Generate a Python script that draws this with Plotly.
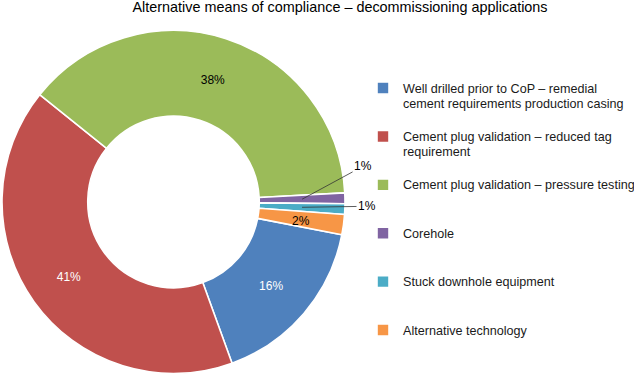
import math
import plotly.graph_objects as go

# ---- data ----
categories = [
    "Well drilled prior to CoP – remedial<br>cement requirements production casing",
    "Cement plug validation – reduced tag<br>requirement",
    "Cement plug validation – pressure testing",
    "Corehole",
    "Stuck downhole equipment",
    "Alternative technology",
]
shares = [16.4, 41.3, 38.4, 1.0, 1.0, 1.9]
colors = ["#4F81BD", "#C0504D", "#9BBB59", "#8064A2", "#4BACC6", "#F79646"]
label_colors = ["white", "white", "black", "black", "black", "black"]
inside_label = [True, True, True, False, False, False]

title_text = "Alternative means of compliance – decommissioning applications"

W, H = 634, 376
ROT = 101
HOLE = 0.5
dom_x = [2 / W, 345 / W]
dom_y = [1 - 373.5 / H, 1 - 30.5 / H]

total = sum(shares)
pct = [f"{round(v)}%" for v in shares]

# legend text padded so each entry occupies three lines
def pad(s, n=3):
    lines = s.count("<br>") + 1
    body = "<br>".join(f'<span style="font-size:12.6px">{ln}</span>' for ln in s.split("<br>"))
    return body + "<br> " * (n - lines)

legend_labels = [pad(c) for c in categories]

fig = go.Figure()
fig.add_trace(go.Pie(
    labels=legend_labels,
    values=shares,
    sort=False,
    direction="clockwise",
    rotation=ROT,
    hole=HOLE,
    marker=dict(colors=colors, line=dict(color="white", width=1.6)),
    text=[p if ins else "" for p, ins in zip(pct, inside_label)],
    textinfo="text",
    textposition="inside",
    insidetextorientation="horizontal",
    textfont=dict(color=label_colors, size=12, family="Liberation Sans, Arial"),
    domain=dict(x=dom_x, y=dom_y),
    hoverinfo="percent",
))

# geometry of pie (in pixels) to position the labels of the small slices
cx = W * (dom_x[0] + dom_x[1]) / 2
cy = H * (1 - (dom_y[0] + dom_y[1]) / 2)
R = min(W * (dom_x[1] - dom_x[0]), H * (dom_y[1] - dom_y[0])) / 2
rmid = R * (1 + HOLE) / 2

cum = 0
annos = []
offsets = {3: (61, -33), 4: (65, -1)}
for i, v in enumerate(shares):
    theta = math.radians(ROT + 360 * (cum + v / 2) / total)
    cum += v
    if inside_label[i]:
        continue
    px = cx + rmid * math.sin(theta)
    py = cy - rmid * math.cos(theta)
    xp, yp = px / W, 1 - py / H
    if i in offsets:
        ax, ay = offsets[i]
        annos.append(dict(x=xp, y=yp, xref="paper", yref="paper", text=pct[i],
                          showarrow=True, arrowhead=0, arrowwidth=0.8,
                          arrowcolor="#333333", ax=ax, ay=ay, standoff=0,
                          font=dict(size=12, color="black")))
    else:
        annos.append(dict(x=xp, y=yp, xref="paper", yref="paper", text=pct[i],
                          showarrow=False, yshift=-2,
                          font=dict(size=12, color="black")))

fig.update_layout(
    width=W, height=H,
    margin=dict(l=0, r=0, t=0, b=0, autoexpand=False),
    paper_bgcolor="white",
    font=dict(family="Liberation Sans, Arial, sans-serif", size=12, color="black"),
    title=dict(text=title_text, x=340 / W, xanchor="center", y=1 - 2 / H,
               yanchor="top", pad=dict(t=0), font=dict(size=14.4, color="black")),
    showlegend=True,
    legend=dict(x=363 / W, xanchor="left", y=1 - 74 / H, yanchor="top",
                valign="top", font=dict(size=11.64, color="#1a1a1a"),
                bgcolor="rgba(0,0,0,0)", traceorder="normal"),
    annotations=annos,
)

fig.write_html(
    "out.html",
    config={"displayModeBar": False},
    post_script="document.body.style.margin='0';document.body.style.overflow='hidden';",
)
